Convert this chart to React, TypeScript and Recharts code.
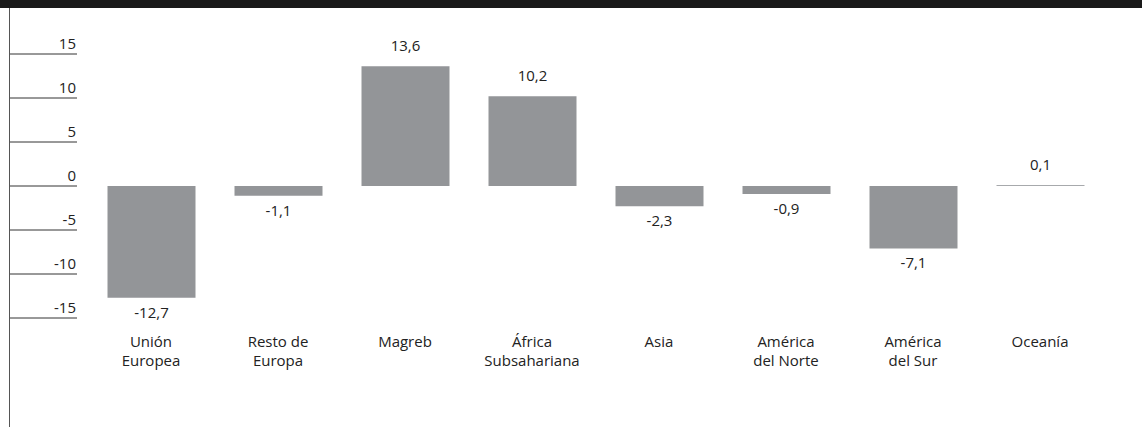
import React from "react";
import { BarChart, Bar, XAxis, YAxis, LabelList, Cell } from "recharts";

const categories = [
  "Unión Europea",
  "Resto de Europa",
  "Magreb",
  "África Subsahariana",
  "Asia",
  "América del Norte",
  "América del Sur",
  "Oceanía",
];
const tickLabels: string[][] = [
  ["Unión", "Europea"],
  ["Resto de", "Europa"],
  ["Magreb"],
  ["África", "Subsahariana"],
  ["Asia"],
  ["América", "del Norte"],
  ["América", "del Sur"],
  ["Oceanía"],
];
const values = [-12.7, -1.1, 13.6, 10.2, -2.3, -0.9, -7.1, 0.1];
const valueLabels = ["-12,7", "-1,1", "13,6", "10,2", "-2,3", "-0,9", "-7,1", "0,1"];
const yTicks = [15, 10, 5, 0, -5, -10, -15];

const data = categories.map((c, i) => ({
  name: c,
  value: values[i],
  label: valueLabels[i],
}));

const FONT = "'Open Sans', sans-serif";
const TEXT = "#222";

const YTick = (props: any) => {
  const { x, y, payload } = props;
  return (
    <g>
      <line x1={10} x2={x} y1={y} y2={y} stroke="#333" strokeWidth={1} />
      <text x={x - 1} y={y - 5} textAnchor="end" fontSize={15} fill={TEXT} fontFamily={FONT}>
        {String(payload.value)}
      </text>
    </g>
  );
};

const XTick = (props: any) => {
  const { x, y, index } = props;
  const lines = tickLabels[index] || [];
  return (
    <g>
      {lines.map((l, i) => (
        <text
          key={i}
          x={x}
          y={y + 21 + i * 19}
          textAnchor="middle"
          fontSize={15}
          fill={TEXT}
          fontFamily={FONT}
        >
          {l}
        </text>
      ))}
    </g>
  );
};

const ValueLabel = (props: any) => {
  const { x, y, width, height, index } = props;
  const v = values[index];
  const cx = x + width / 2;
  const top = Math.min(y, y + height);
  const bottom = Math.max(y, y + height);
  const ty = v >= 0 ? top - 15 : bottom + 20;
  return (
    <text x={cx} y={ty} textAnchor="middle" fontSize={15} fill={TEXT} fontFamily={FONT}>
      {valueLabels[index]}
    </text>
  );
};

export default function App() {
  return (
    <div
      style={{
        position: "absolute",
        left: 0,
        top: 0,
        width: 1142,
        height: 427,
        background: "#fff",
        overflow: "hidden",
      }}
    >
      <div
        style={{ position: "absolute", left: 0, top: 0, width: 1142, height: 8, background: "#1a1a1a" }}
      />
      <div
        style={{ position: "absolute", left: 9, top: 8, width: 1, height: 419, background: "#555" }}
      />
      <div style={{ position: "absolute", left: 0, top: 0 }}>
        <BarChart
          width={1142}
          height={427}
          data={data}
          margin={{ top: 54, right: 38.5, bottom: 0, left: 0 }}
          barSize={88}
        >
          <YAxis
            type="number"
            domain={[-15, 15]}
            ticks={yTicks}
            width={87.5}
            axisLine={false}
            tickLine={false}
            tickMargin={4.5}
            tick={<YTick />}
            interval={0}
          />
          <XAxis
            dataKey="name"
            axisLine={false}
            tickLine={false}
            tick={<XTick />}
            interval={0}
            height={109}
          />
          <Bar dataKey="value" fill="#939598" isAnimationActive={false}>
            {data.map((d, i) => (
              <Cell key={i} fill={d.value === 0.1 ? "#a7a9ac" : "#939598"} />
            ))}
            <LabelList dataKey="label" content={<ValueLabel />} />
          </Bar>
        </BarChart>
      </div>
    </div>
  );
}
